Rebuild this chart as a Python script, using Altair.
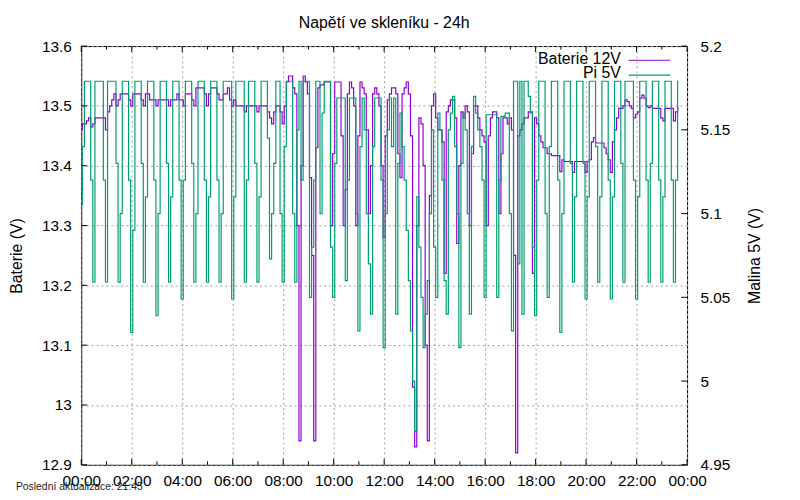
import altair as alt
import pandas as pd

T = 5.179  # top level of the Pi 5V readings

# Baterie 12V, one value every 5 minutes, one row per hour
batt_00_04 = [
    13.46, 13.47, 13.47, 13.475, 13.48, 13.465, 13.47, 13.48, 13.48, 13.48, 13.48, 13.48,
    13.46, 13.49, 13.50, 13.51, 13.52, 13.50, 13.51, 13.52, 13.52, 13.52, 13.52, 13.51,
    13.50, 13.52, 13.52, 13.52, 13.52, 13.51, 13.50, 13.52, 13.52, 13.51, 13.51, 13.51,
    13.50, 13.51, 13.51, 13.51, 13.51, 13.51, 13.50, 13.51, 13.51, 13.51, 13.52, 13.51,
]
batt_04_08 = [
    13.51, 13.50, 13.52, 13.52, 13.52, 13.51, 13.50, 13.53, 13.53, 13.53, 13.53, 13.52,
    13.50, 13.52, 13.53, 13.53, 13.53, 13.52, 13.51, 13.51, 13.52, 13.52, 13.53, 13.51,
    13.50, 13.51, 13.50, 13.50, 13.50, 13.50, 13.49, 13.50, 13.50, 13.50, 13.50, 13.50,
    13.49, 13.50, 13.50, 13.50, 13.50, 13.49, 13.48, 13.47, 13.49, 13.50, 13.50, 13.49,
]
batt_08_12 = [
    13.47, 13.50, 13.54, 13.55, 13.55, 13.53, 13.52, 13.30, 12.94, 13.40, 13.55, 13.54,
    13.52, 13.38, 13.25, 12.94, 13.43, 13.53, 13.535, 13.535, 13.54, 13.54, 13.54, 13.30,
    13.42, 13.54, 13.54, 13.54, 13.45, 13.30, 13.36, 13.52, 13.54, 13.53, 13.50, 13.30,
    13.45, 13.54, 13.53, 13.52, 13.46, 13.32, 13.40, 13.52, 13.53, 13.52, 13.50, 13.40,
]
batt_12_16 = [
    13.28, 13.45, 13.51, 13.52, 13.53, 13.53, 13.52, 13.42, 13.38, 13.52, 13.53, 13.54,
    13.52, 13.45, 13.03, 12.93, 13.30, 13.48, 13.47, 13.40, 13.10, 12.94, 13.35, 13.50,
    13.52, 13.48, 13.46, 13.46, 13.44, 13.22, 13.49, 13.50, 13.51, 13.51, 13.48, 13.27,
    13.40, 13.49, 13.48, 13.50, 13.49, 13.30, 13.42, 13.50, 13.50, 13.48, 13.46, 13.45,
]
batt_16_20 = [
    13.44, 13.30, 13.45, 13.48, 13.49, 13.49, 13.48, 13.32, 13.42, 13.48, 13.48, 13.47,
    13.48, 13.46, 13.25, 12.92, 13.45, 13.46, 13.47, 13.48, 13.48, 13.49, 13.49, 13.22,
    13.48, 13.47, 13.45, 13.44, 13.43, 13.43, 13.42, 13.42, 13.417, 13.417, 13.417, 13.417,
    13.39, 13.41, 13.407, 13.407, 13.407, 13.407, 13.389, 13.407, 13.407, 13.407, 13.407, 13.407,
]
batt_20_24 = [
    13.389, 13.407, 13.41, 13.44, 13.447, 13.438, 13.438, 13.438, 13.438, 13.43, 13.42, 13.41,
    13.389, 13.44, 13.46, 13.48, 13.496, 13.496, 13.50, 13.51, 13.507, 13.50, 13.496, 13.48,
    13.486, 13.49, 13.513, 13.518, 13.513, 13.50, 13.497, 13.50, 13.496, 13.496, 13.496, 13.496,
    13.48, 13.475, 13.496, 13.496, 13.496, 13.496, 13.475, 13.49, 13.496,
]

# Pi 5V, same timestamps
pi_00_04 = [
    5.105, 5.14, T, T, T, 5.12, 5.059, T, T, T, T, 5.12,
    5.059, T, T, T, T, 5.13, 5.059, 5.10, T, T, T, 5.12,
    5.029, 5.09, T, T, T, 5.13, 5.059, 5.11, T, T, T, 5.12,
    5.039, 5.10, T, T, T, 5.13, 5.059, 5.11, T, T, T, 5.12,
]
pi_04_08 = [
    5.049, 5.12, T, T, T, 5.13, 5.059, 5.10, T, T, T, 5.12,
    5.059, 5.11, T, T, T, 5.12, 5.059, 5.10, T, T, T, T,
    5.049, 5.11, T, T, T, T, 5.059, 5.12, T, T, T, 5.13,
    5.059, 5.11, T, T, T, 5.145, 5.073, 5.10, 5.13, T, T, 5.10,
]
pi_08_12 = [
    5.059, 5.14, T, T, T, 5.10, 5.059, 5.15, T, 5.12, T, T,
    T, 5.05, 5.08, 5.12, T, T, 5.10, 5.16, T, T, T, 5.08,
    5.05, 5.13, 5.169, 5.169, 5.169, 5.169, 5.06, 5.12, 5.169, 5.169, 5.169, 5.10,
    5.03, 5.14, 5.169, 5.15, 5.10, 5.07, 5.04, 5.14, 5.169, 5.169, 5.169, 5.12,
]
pi_12_16 = [
    5.02, 5.10, 5.15, 5.169, 5.14, 5.169, 5.04, 5.13, 5.16, 5.14, 5.12, 5.09,
    5.06, 5.03, 5.00, 4.97, 5.11, 5.08, 5.05, 5.02, 5.04, 5.06, 5.10, 5.15,
    5.08, 5.05, 5.16, 5.15, 5.12, 5.06, 5.04, 5.15, 5.16, 5.17, 5.14, 5.10,
    5.02, 5.13, 5.16, 5.15, 5.10, 5.04, 5.14, 5.17, 5.16, 5.15, 5.14, 5.12,
]
pi_16_20 = [
    5.05, 5.159, 5.159, 5.159, 5.159, 5.159, 5.05, 5.12, 5.158, 5.158, 5.16, 5.16,
    5.10, 5.03, T, T, 5.07, T, 5.04, T, T, 5.17, 5.16, 5.08,
    5.039, 5.12, T, T, T, 5.10, 5.05, 5.14, T, T, T, 5.12,
    5.029, 5.10, T, T, T, 5.13, 5.059, 5.11, T, T, T, 5.13,
]
pi_20_24 = [
    5.049, 5.11, T, T, T, 5.14, 5.059, 5.11, T, T, T, 5.12,
    5.049, 5.11, T, T, T, 5.13, 5.059, T, T, T, T, 5.12,
    5.049, 5.11, T, T, T, 5.12, 5.059, 5.13, T, T, T, 5.12,
    5.059, 5.11, T, T, T, 5.12, 5.059, 5.12, T,
]

batt = batt_00_04 + batt_04_08 + batt_08_12 + batt_12_16 + batt_16_20 + batt_20_24
pi = pi_00_04 + pi_04_08 + pi_08_12 + pi_12_16 + pi_16_20 + pi_20_24
SAMPLE_MIN = 5
hours = [i * SAMPLE_MIN / 60 for i in range(len(batt))]

x_ticks = list(range(0, 25, 2))
x_minor = list(range(1, 24, 2))
left_ticks = [12.9, 13.0, 13.1, 13.2, 13.3, 13.4, 13.5, 13.6]
right_ticks = [4.95, 5.0, 5.05, 5.1, 5.15, 5.2]

title_text = "Napětí ve skleníku - 24h"
footer_text = "Poslední aktualizace: 21:45"
name_batt = "Baterie 12V"
name_pi = "Pi 5V"

PURPLE = "#9400D3"
GREEN = "#009E73"
GRID = "#a0a0a0"
FONT = "Liberation Sans"
W, H = 612, 423

df = pd.DataFrame({"t": hours, "batt": batt, "pi": pi})

xscale = alt.Scale(domain=[0, 24], nice=False, zero=False)
lscale = alt.Scale(domain=[12.9, 13.6], nice=False, zero=False)
rscale = alt.Scale(domain=[4.95, 5.2], nice=False, zero=False)

x_axis = alt.Axis(
    values=x_ticks,
    labelExpr="(datum.value % 24 < 10 ? '0' : '') + (datum.value % 24) + ':00'",
    grid=True, gridDash=[2, 3], gridColor=GRID, gridWidth=1,
    ticks=False, tickSize=0, domain=False, labelPadding=9,
    labelFlush=False, labelOverlap=False, title=None,
)

purple = alt.Chart(df).mark_line(interpolate="step", color=PURPLE, strokeWidth=1.2).encode(
    x=alt.X("t:Q", scale=xscale, axis=x_axis),
    y=alt.Y("batt:Q", scale=lscale, axis=alt.Axis(
        values=left_ticks, format="~g", grid=True, gridDash=[2, 3], gridColor=GRID,
        ticks=False, tickSize=0, domain=False, labelPadding=10, labelFlush=False,
        labelOverlap=False,
        title="Baterie (V)", titleX=-65, titleY=H / 2, titleAngle=270,
        titleBaseline="middle", titleAlign="center",
    )),
)

green = alt.Chart(df).mark_line(interpolate="step", color=GREEN, strokeWidth=1.2).encode(
    x=alt.X("t:Q", scale=xscale),
    y=alt.Y("pi:Q", scale=rscale, axis=alt.Axis(
        orient="right", values=right_ticks, format="~g", grid=False,
        ticks=False, tickSize=0, domain=False, labelPadding=13, labelFlush=False,
        labelOverlap=False,
        title="Malina 5V (V)", titleX=68, titleY=H / 2, titleAngle=270,
        titleBaseline="middle", titleAlign="center",
    )),
)

# inward tick marks (gnuplot style)
df_xt = pd.DataFrame({"h": x_ticks})
df_xm = pd.DataFrame({"h": x_minor})
xt_bot = alt.Chart(df_xt).mark_rule(color="black").encode(
    x=alt.X("h:Q", scale=xscale), y=alt.value(H), y2=alt.value(H - 6))
xt_top = alt.Chart(df_xt).mark_rule(color="black").encode(
    x=alt.X("h:Q", scale=xscale), y=alt.value(0), y2=alt.value(6))
xm_bot = alt.Chart(df_xm).mark_rule(color="black").encode(
    x=alt.X("h:Q", scale=xscale), y=alt.value(H), y2=alt.value(H - 3.5))
xm_top = alt.Chart(df_xm).mark_rule(color="black").encode(
    x=alt.X("h:Q", scale=xscale), y=alt.value(0), y2=alt.value(3.5))
lt = alt.Chart(pd.DataFrame({"v": left_ticks})).mark_rule(color="black").encode(
    y=alt.Y("v:Q", scale=lscale, axis=None), x=alt.value(0), x2=alt.value(6))
rt = alt.Chart(pd.DataFrame({"v": right_ticks})).mark_rule(color="black").encode(
    y=alt.Y("v:Q", scale=rscale, axis=None), x=alt.value(W), x2=alt.value(W - 6))

one = pd.DataFrame({"k": [0]})
title = alt.Chart(one).mark_text(align="center", baseline="alphabetic", fontSize=16,
                                 color="black", text=title_text).encode(
    x=alt.value(W / 2), y=alt.value(-18.3))
leg_t1 = alt.Chart(one).mark_text(align="right", baseline="alphabetic", fontSize=16,
                                  color="black", text=name_batt).encode(
    x=alt.value(545), y=alt.value(17.7))
leg_t2 = alt.Chart(one).mark_text(align="right", baseline="alphabetic", fontSize=16,
                                  color="black", text=name_pi).encode(
    x=alt.value(545), y=alt.value(32.7))
leg_l1 = alt.Chart(one).mark_rule(color=PURPLE, strokeWidth=1.2).encode(
    x=alt.value(553), x2=alt.value(595), y=alt.value(14.3))
leg_l2 = alt.Chart(one).mark_rule(color=GREEN, strokeWidth=1.2).encode(
    x=alt.value(553), x2=alt.value(595), y=alt.value(29.3))
footer = alt.Chart(one).mark_text(align="left", baseline="alphabetic", fontSize=10.5,
                                  color="#222", text=footer_text).encode(
    x=alt.value(-66), y=alt.value(448.7))

chart = alt.layer(
    purple, green, xt_bot, xt_top, xm_bot, xm_top, lt, rt,
    title, leg_t1, leg_t2, leg_l1, leg_l2, footer,
).resolve_scale(y="independent").properties(
    width=W, height=H,
    padding={"left": 74, "top": 36, "right": 106, "bottom": 25},
    autosize=alt.AutoSizeParams(type="none"),
).configure(font=FONT).configure_text(font=FONT).configure_axis(
    labelFont=FONT, titleFont=FONT, labelFontSize=15.5, titleFontSize=16,
    labelColor="black", titleColor="black", titleFontWeight="normal",
).configure_view(stroke="black", strokeWidth=1)

chart.save("out.html", embed_options={"renderer": "svg", "actions": False})
